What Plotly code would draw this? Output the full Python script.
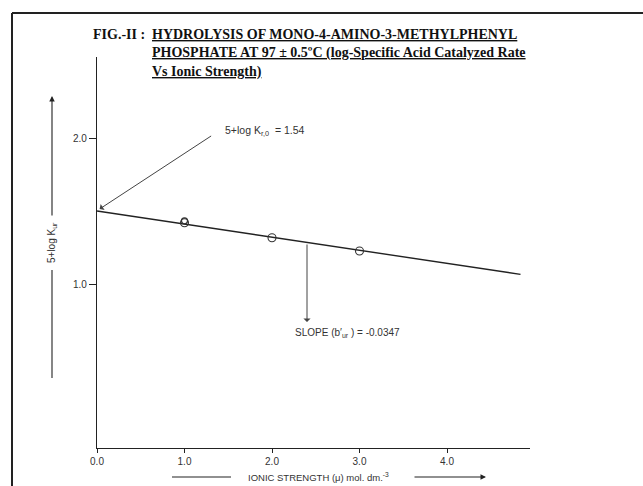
import plotly.graph_objects as go

# ---- data ----
ionic_strength = [1.0, 2.0, 3.0]
log_k = [1.42, 1.317, 1.226]
extra_x = [1.0]
extra_y = [1.433]
fit_x = [0.0, 4.84]
fit_y = [1.50, 1.066]
x_ticks = [0.0, 1.0, 2.0, 3.0, 4.0]
x_tick_text = ["0.0", "1.0", "2.0", "3.0", "4.0"]
y_ticks = [1.0, 2.0]
y_tick_text = ["1.0", "2.0"]

W, H = 643, 486
L, R, T, B = 97, 530, 57, 448  # plot area pixel box
PW, PH = R - L, B - T


def px(x):
    return (x - L) / PW


def py(y):
    return (B - y) / PH


SANS = "Liberation Sans, Arial, sans-serif"
SERIF = "Liberation Serif, Times New Roman, serif"
INK = "#333333"

fig = go.Figure()
fig.add_trace(go.Scatter(x=fit_x, y=fit_y, mode="lines",
                         line=dict(color="#222222", width=1.4), showlegend=False))
fig.add_trace(go.Scatter(x=ionic_strength, y=log_k, mode="markers",
                         marker=dict(symbol="circle-open", size=8,
                                     color="#333333", line=dict(width=1.1)),
                         showlegend=False))
fig.add_trace(go.Scatter(x=extra_x, y=extra_y, mode="markers",
                         marker=dict(symbol="circle-open", size=6,
                                     color="#333333", line=dict(width=1.3)),
                         showlegend=False))

fig.update_layout(
    width=W, height=H,
    margin=dict(l=L, r=W - R, t=T, b=H - B, pad=0),
    paper_bgcolor="white", plot_bgcolor="white",
    font=dict(family=SANS, size=10, color=INK),
    xaxis=dict(range=[0, (R - L) / 87.5], showgrid=False, zeroline=False,
               showline=True, linecolor="#222222", linewidth=1.3,
               ticks="outside", ticklen=4, tickcolor="#222222",
               tickvals=x_ticks, ticktext=x_tick_text,
               tickfont=dict(family=SANS, size=10, color=INK)),
    yaxis=dict(range=[1 - (B - 284) / 146, 1 + (284 - T) / 146],
               showgrid=False, zeroline=False,
               showline=True, linecolor="#222222", linewidth=1.3,
               ticks="outside", ticklen=7, tickcolor="#222222",
               tickvals=y_ticks, ticktext=y_tick_text,
               tickfont=dict(family=SANS, size=10, color=INK)),
)

shapes = []
# outer frame (left and top)
shapes.append(dict(type="line", xref="paper", yref="paper",
                   x0=px(12), x1=px(12), y0=py(13), y1=py(H + 5),
                   line=dict(color="#222222", width=2)))
shapes.append(dict(type="line", xref="paper", yref="paper",
                   x0=px(12), x1=px(W + 5), y0=py(13), y1=py(13),
                   line=dict(color="#222222", width=2)))
# y-title lower line
shapes.append(dict(type="line", xref="paper", yref="paper",
                   x0=px(52), x1=px(52), y0=py(270), y1=py(378),
                   line=dict(color="#222222", width=1.1)))
# x-title left line
shapes.append(dict(type="line", xref="paper", yref="paper",
                   x0=px(172), x1=px(231), y0=py(477), y1=py(477),
                   line=dict(color="#222222", width=1.1)))
fig.update_layout(shapes=shapes)

ann = []
# title
ann.append(dict(xref="paper", yref="paper", x=px(91), y=py(34),
                xanchor="left", yanchor="middle", showarrow=False,
                text="<b>FIG.-II :</b>",
                font=dict(family=SERIF, size=14, color="#111111")))
title_lines = [
    "HYDROLYSIS OF MONO-4-AMINO-3-METHYLPHENYL",
    "PHOSPHATE AT 97 ± 0.5ºC (log-Specific Acid Catalyzed Rate",
    "Vs Ionic Strength)",
]
for i, t in enumerate(title_lines):
    ann.append(dict(xref="paper", yref="paper", x=px(150), y=py(34 + 19 * i),
                    xanchor="left", yanchor="middle", showarrow=False,
                    text="<u><b>" + t + "</b></u>",
                    font=dict(family=SERIF, size=14, color="#111111")))

# intercept label + arrow
ann.append(dict(xref="paper", yref="paper", x=px(223), y=py(131),
                xanchor="left", yanchor="middle", showarrow=False,
                text="5+log K<sub>r,0</sub>  = 1.54",
                font=dict(family=SANS, size=10.5, color=INK)))
ann.append(dict(xref="x", yref="y", x=0.03, y=1 + (284 - 209) / 146,
                ax=113, ay=-74, text="", showarrow=True,
                arrowhead=1, arrowsize=1.2, arrowwidth=1, arrowcolor="#444444"))

# slope label + arrow
ann.append(dict(xref="paper", yref="paper", x=px(293), y=py(333),
                xanchor="left", yanchor="middle", showarrow=False,
                text="SLOPE (b′<sub>ur</sub> ) = -0.0347",
                font=dict(family=SANS, size=10, color=INK)))
ann.append(dict(xref="x", yref="y", x=(307 - L) / 87.5, y=1 + (284 - 322) / 146,
                ax=0, ay=-79, text="", showarrow=True,
                arrowhead=1, arrowsize=1.2, arrowwidth=1, arrowcolor="#444444"))

# x-axis title + arrow
ann.append(dict(xref="paper", yref="paper", x=px(318), y=py(477),
                xanchor="center", yanchor="middle", showarrow=False,
                text="IONIC STRENGTH (μ) mol. dm.<sup>-3</sup>",
                font=dict(family=SANS, size=9.5, color=INK)))
ann.append(dict(xref="paper", yref="paper", x=px(486), y=py(477),
                ax=-73, ay=0, text="", showarrow=True,
                arrowhead=2, arrowsize=1, arrowwidth=1.1, arrowcolor="#222222"))

# y-axis title + arrow
ann.append(dict(xref="paper", yref="paper", x=px(52), y=py(243),
                xanchor="center", yanchor="middle", showarrow=False,
                textangle=-90,
                text="5+log K<sub>ur</sub>",
                font=dict(family=SANS, size=10, color=INK)))
ann.append(dict(xref="paper", yref="paper", x=px(52), y=py(96),
                ax=0, ay=121, text="", showarrow=True,
                arrowhead=2, arrowsize=1, arrowwidth=1.1, arrowcolor="#222222"))

fig.update_layout(annotations=ann)

fig.write_html("out.html")
